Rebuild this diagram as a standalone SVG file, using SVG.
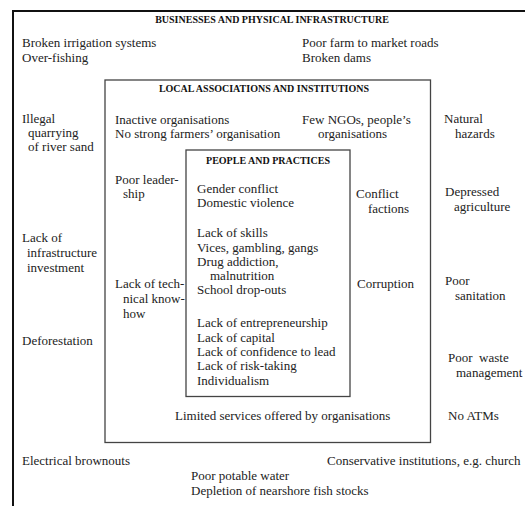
<svg xmlns="http://www.w3.org/2000/svg" width="525" height="506" viewBox="0 0 525 506">
<style>
text{font-family:"Liberation Serif","Times New Roman",serif;font-size:13px;fill:#222}
.h{font-weight:bold;font-size:10px;text-anchor:middle;fill:#111}
.box{fill:none;stroke:#444;stroke-width:1.3}
</style>
<rect width="525" height="506" fill="#fff"/>
<g id="outer">
<path d="M13 506 V11 H525" fill="none" stroke="#111" stroke-width="2"/>
<text class="h" x="272" y="23">BUSINESSES AND PHYSICAL INFRASTRUCTURE</text>
<text x="22" y="47">Broken irrigation systems</text>
<text x="22" y="62">Over-fishing</text>
<text x="302" y="47">Poor farm to market roads</text>
<text x="302" y="62">Broken dams</text>
<text x="22" y="123">Illegal</text>
<text x="28" y="137">quarrying</text>
<text x="28" y="151">of river sand</text>
<text x="444" y="123">Natural</text>
<text x="455" y="138">hazards</text>
<text x="445" y="196">Depressed</text>
<text x="454" y="211">agriculture</text>
<text x="22" y="242">Lack of</text>
<text x="27" y="257">infrastructure</text>
<text x="27" y="272">investment</text>
<text x="445" y="285">Poor</text>
<text x="455" y="300">sanitation</text>
<text x="22" y="345">Deforestation</text>
<text x="448" y="362" xml:space="preserve">Poor  waste</text>
<text x="456" y="377">management</text>
<text x="448" y="420">No ATMs</text>
<text x="22" y="465">Electrical brownouts</text>
<text x="327" y="465">Conservative institutions, e.g. church</text>
<text x="191" y="480">Poor potable water</text>
<text x="191" y="495">Depletion of nearshore fish stocks</text>
</g>
<g id="local">
<rect class="box" x="105" y="80" width="325.5" height="362.5"/>
<text class="h" x="264" y="92">LOCAL ASSOCIATIONS AND INSTITUTIONS</text>
<text x="115" y="124">Inactive organisations</text>
<text x="115" y="138">No strong farmers’ organisation</text>
<text x="302" y="124">Few NGOs, people’s</text>
<text x="318" y="138">organisations</text>
<text x="115" y="184">Poor leader-</text>
<text x="123" y="198">ship</text>
<text x="356" y="198">Conflict</text>
<text x="368" y="213">factions</text>
<text x="115" y="288">Lack of tech-</text>
<text x="123" y="303">nical know-</text>
<text x="123" y="318">how</text>
<text x="357" y="288">Corruption</text>
<text x="175" y="420">Limited services offered by organisations</text>
</g>
<g id="people">
<rect class="box" x="186" y="150" width="164" height="246.5"/>
<text class="h" x="268" y="164">PEOPLE AND PRACTICES</text>
<text x="197" y="193">Gender conflict</text>
<text x="197" y="207">Domestic violence</text>
<text x="197" y="237">Lack of skills</text>
<text x="197" y="252">Vices, gambling, gangs</text>
<text x="197" y="266">Drug addiction,</text>
<text x="210" y="280">malnutrition</text>
<text x="197" y="294">School drop-outs</text>
<text x="197" y="327">Lack of entrepreneurship</text>
<text x="197" y="342">Lack of capital</text>
<text x="197" y="356">Lack of confidence to lead</text>
<text x="197" y="370">Lack of risk-taking</text>
<text x="197" y="385">Individualism</text>
</g>
<g id="connectors"/>
</svg>
